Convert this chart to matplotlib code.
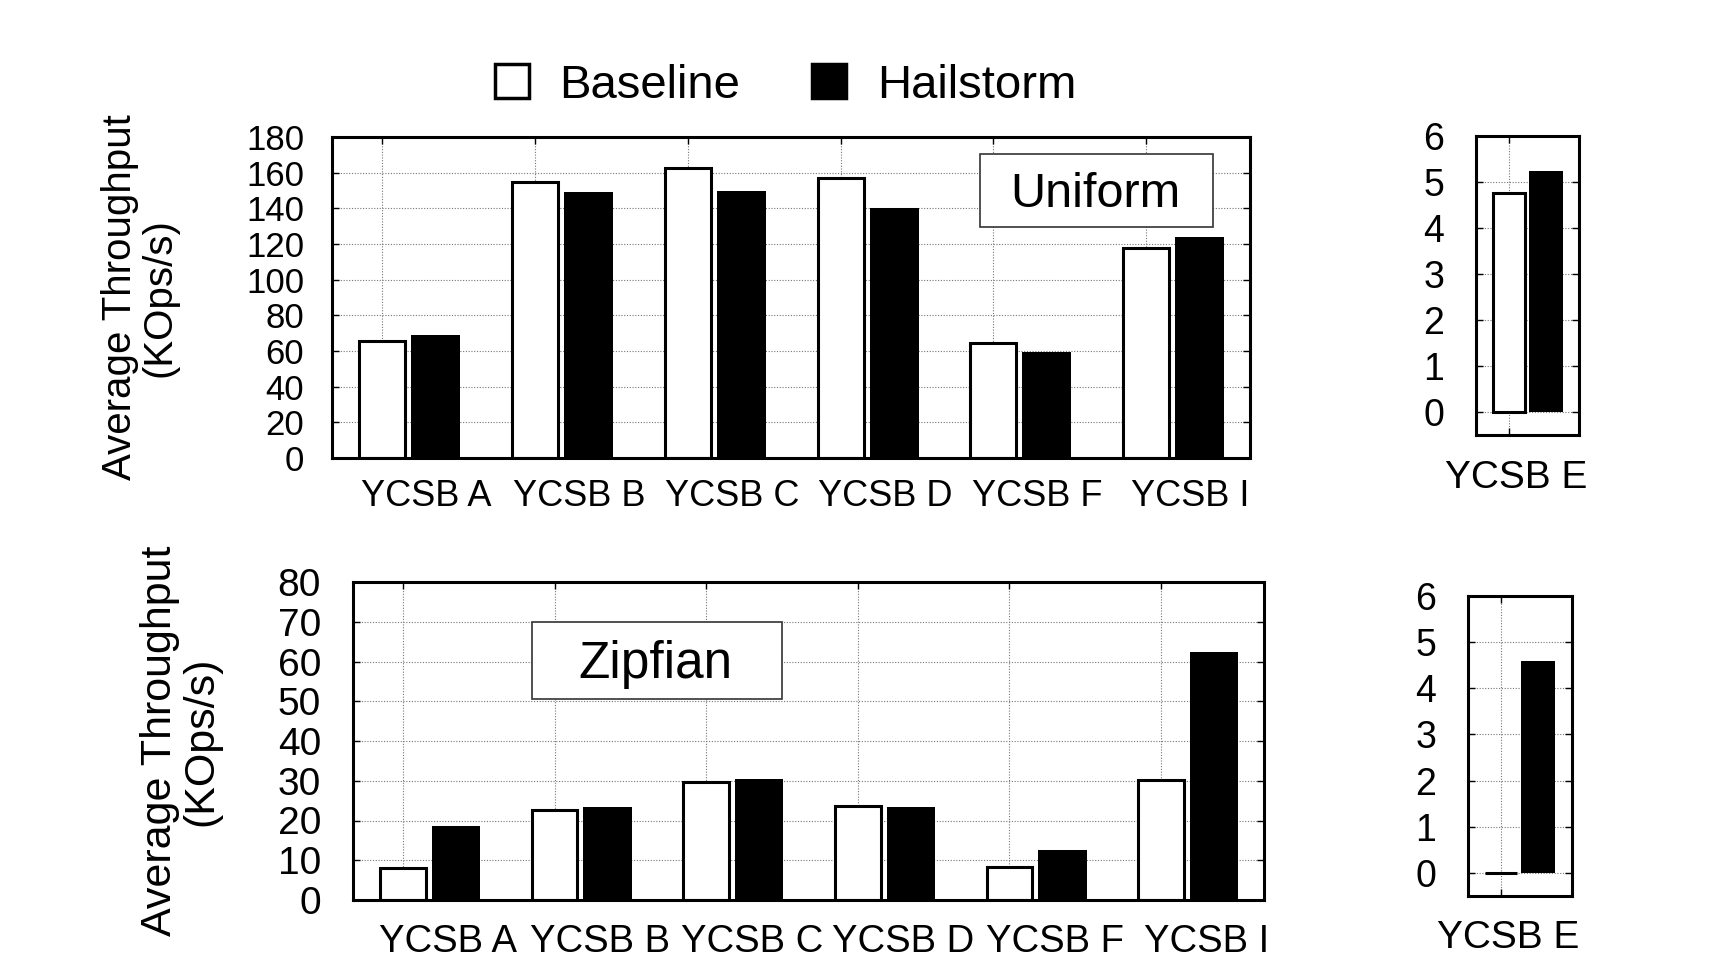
import matplotlib
matplotlib.use('Agg')
import matplotlib.pyplot as plt
from matplotlib.lines import Line2D
from matplotlib.patches import Rectangle
import numpy as np

plt.rcParams['font.family'] = ['Liberation Sans', 'DejaVu Sans']

# ---------------- data ----------------
workloads = ['YCSB A', 'YCSB B', 'YCSB C', 'YCSB D', 'YCSB F', 'YCSB I']
workload_e = ['YCSB E']
series_names = ['Baseline', 'Hailstorm']

uniform_baseline = [65.5, 155, 162.5, 157, 64.5, 117.5]
uniform_hailstorm = [69, 149, 150, 140, 59.5, 124]
uniform_e_baseline = [4.77]
uniform_e_hailstorm = [5.25]

zipf_baseline = [8.0, 22.6, 29.7, 23.6, 8.2, 30.2]
zipf_hailstorm = [18.7, 23.4, 30.4, 23.4, 12.7, 62.5]
zipf_e_baseline = [0.0]
zipf_e_hailstorm = [4.6]

uniform_yticks = list(range(0, 181, 20))
zipf_yticks = list(range(0, 81, 10))
e_yticks = list(range(0, 7))

# ---------------- figure ----------------
W, H = 1724, 966
fig = plt.figure(figsize=(W / 100, H / 100), dpi=100)


def px_axes(x0, y0, x1, y1):
    return fig.add_axes([x0 / W, 1 - y1 / H, (x1 - x0) / W, (y1 - y0) / H])


BW_BASE = 0.30
BW_HAIL = 0.32
OFF = 0.35
LW = 2.2


def draw(ax, cats, base, hail, yticks, ylim, xlim, lab_off, xfs, yfs, xpad, ypad):
    x = np.arange(len(cats))
    ax.bar(x, base, width=BW_BASE, facecolor='white', edgecolor='black',
           linewidth=LW, zorder=2)
    ax.bar(x + OFF, hail, width=BW_HAIL, facecolor='black', edgecolor='black',
           linewidth=0, zorder=2)
    ax.set_xlim(*xlim)
    ax.set_ylim(*ylim)
    ax.set_yticks(yticks)
    ax.set_xticks(x)
    ax.set_xticklabels([''] * len(cats))
    ax.set_xticks(x + lab_off, labels=cats, minor=True)
    ax.tick_params(axis='x', which='minor', length=0, labelsize=xfs, pad=xpad)
    ax.tick_params(axis='both', which='major', direction='in', length=5,
                   width=1, top=True, right=True)
    ax.tick_params(axis='y', which='major', labelsize=yfs, pad=ypad)
    ax.grid(True, which='major', linestyle=(0, (1, 1.5)), color='#777777',
            linewidth=0.8)
    ax.set_axisbelow(True)
    for s in ax.spines.values():
        s.set_linewidth(LW)
        s.set_zorder(5)


# top row (Uniform)
ax1 = px_axes(332, 137, 1250, 458)
draw(ax1, workloads, uniform_baseline, uniform_hailstorm, uniform_yticks,
     (0, 180), (-0.33, 5.68), 0.29, 26, 25, 15, 20)
ax1.set_ylabel('Average Throughput\n(KOps/s)', fontsize=29, va='center',
               linespacing=1.05)
ax1.yaxis.set_label_coords(-0.209, 0.5)
ax1.add_patch(Rectangle((0.706, 0.720), 0.254, 0.227, transform=ax1.transAxes,
                        facecolor='white', edgecolor='#333333', linewidth=1.2,
                        zorder=3))
ax1.text(0.832, 0.781, 'Uniform', transform=ax1.transAxes, ha='center',
         va='baseline', fontsize=35, zorder=4)

ax2 = px_axes(1476, 136, 1579, 435)
draw(ax2, workload_e, uniform_e_baseline, uniform_e_hailstorm, e_yticks,
     (-0.5, 6), (-0.312, 0.662), 0.07, 28, 27, 18, 23)

# bottom row (Zipfian)
ax3 = px_axes(353, 582, 1264, 900)
draw(ax3, workloads, zipf_baseline, zipf_hailstorm, zipf_yticks,
     (0, 80), (-0.33, 5.68), 0.30, 27.5, 28, 17, 23)
ax3.set_ylabel('Average Throughput\n(KOps/s)', fontsize=31, va='center',
               linespacing=1.05)
ax3.yaxis.set_label_coords(-0.189, 0.5)
ax3.add_patch(Rectangle((0.1965, 0.632), 0.2744, 0.242, transform=ax3.transAxes,
                        facecolor='white', edgecolor='#333333', linewidth=1.2,
                        zorder=3))
ax3.text(0.332, 0.698, 'Zipfian', transform=ax3.transAxes, ha='center',
         va='baseline', fontsize=37, zorder=4)

ax4 = px_axes(1468, 596, 1572, 896)
draw(ax4, workload_e, zipf_e_baseline, zipf_e_hailstorm, e_yticks,
     (-0.5, 6), (-0.312, 0.67), 0.07, 28, 27, 17, 23)

# legend
handles = [
    Line2D([0], [0], marker='s', linestyle='none', markersize=24,
           markerfacecolor='white', markeredgecolor='black', markeredgewidth=2.5),
    Line2D([0], [0], marker='s', linestyle='none', markersize=24,
           markerfacecolor='black', markeredgecolor='black', markeredgewidth=2.5),
]
fig.legend(handles, series_names, loc='center', bbox_to_anchor=(0.455, 0.911),
           ncol=2, frameon=False, fontsize=34, handlelength=0.8,
           handletextpad=0.6, columnspacing=1.5, borderpad=0)

fig.savefig('out.png', dpi=100)
